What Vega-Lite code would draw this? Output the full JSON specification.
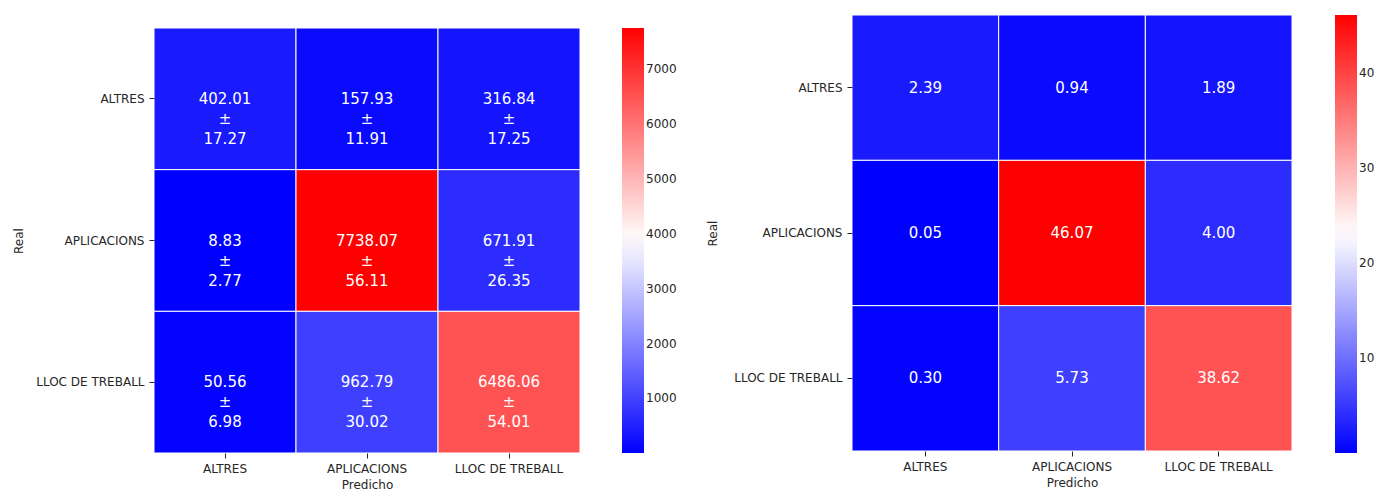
{
  "$schema": "https://vega.github.io/schema/vega-lite/v6.json",
  "padding": {"left": 12, "top": 14, "right": 0, "bottom": 0},
  "background": "white",
  "config": {
    "font": "DejaVu Sans",
    "view": {"stroke": null},
    "axis": {
      "labelFontSize": 12, "titleFontSize": 12,
      "labelColor": "#262626", "titleColor": "#262626", "tickColor": "#262626",
      "tickSize": 5, "labelPadding": 5, "domain": false, "grid": false,
      "titleFontWeight": "normal"
    },
    "legend": {
      "gradientThickness": 22, "offset": 43, "padding": 0, "labelOffset": 9,
      "labelFontSize": 12, "labelColor": "#262626", "gradientStrokeWidth": 0
    }
  },
  "spacing": 29,
  "resolve": {"scale": {"color": "independent"}, "legend": {"color": "independent"}},
  "hconcat": [
    {
      "width": 426,
      "height": 438,
      "data": {"values": [
        {"real": "ALTRES", "pred": "ALTRES", "mean": 402.01, "label": "402.01\n±\n17.27"},
        {"real": "ALTRES", "pred": "APLICACIONS", "mean": 157.93, "label": "157.93\n±\n11.91"},
        {"real": "ALTRES", "pred": "LLOC DE TREBALL", "mean": 316.84, "label": "316.84\n±\n17.25"},
        {"real": "APLICACIONS", "pred": "ALTRES", "mean": 8.83, "label": "8.83\n±\n2.77"},
        {"real": "APLICACIONS", "pred": "APLICACIONS", "mean": 7738.07, "label": "7738.07\n±\n56.11"},
        {"real": "APLICACIONS", "pred": "LLOC DE TREBALL", "mean": 671.91, "label": "671.91\n±\n26.35"},
        {"real": "LLOC DE TREBALL", "pred": "ALTRES", "mean": 50.56, "label": "50.56\n±\n6.98"},
        {"real": "LLOC DE TREBALL", "pred": "APLICACIONS", "mean": 962.79, "label": "962.79\n±\n30.02"},
        {"real": "LLOC DE TREBALL", "pred": "LLOC DE TREBALL", "mean": 6486.06, "label": "6486.06\n±\n54.01"}
      ]},
      "encoding": {
        "x": {"field": "pred", "type": "nominal", "sort": ["ALTRES", "APLICACIONS", "LLOC DE TREBALL"], "title": "Predicho", "axis": {"labelAngle": 0, "titlePadding": 5}},
        "y": {"field": "real", "type": "nominal", "sort": ["ALTRES", "APLICACIONS", "LLOC DE TREBALL"], "title": "Real", "scale": {"range": [13, 438]}, "axis": {"titlePadding": 10}}
      },
      "layer": [
        {
          "mark": {"type": "rect", "stroke": "white", "strokeWidth": 1},
          "encoding": {
            "color": {
              "field": "mean", "type": "quantitative",
              "scale": {"domain": [8.83, 3873.45, 7738.07], "range": ["#0000ff", "#ffffff", "#ff0000"], "interpolate": "rgb"},
              "legend": {"title": null, "orient": "none", "legendX": 468, "legendY": 13, "direction": "vertical", "gradientLength": 425, "format": "d", "values": [1000, 2000, 3000, 4000, 5000, 6000, 7000]}
            }
          }
        },
        {
          "mark": {"type": "text", "lineBreak": "\n", "lineHeight": 20, "fontSize": 15, "color": "white", "baseline": "middle"},
          "encoding": {"text": {"field": "label", "type": "nominal"}}
        }
      ]
    },
    {
      "width": 440,
      "height": 436,
      "data": {"values": [
        {"real": "ALTRES", "pred": "ALTRES", "v": 2.39},
        {"real": "ALTRES", "pred": "APLICACIONS", "v": 0.94},
        {"real": "ALTRES", "pred": "LLOC DE TREBALL", "v": 1.89},
        {"real": "APLICACIONS", "pred": "ALTRES", "v": 0.05},
        {"real": "APLICACIONS", "pred": "APLICACIONS", "v": 46.07},
        {"real": "APLICACIONS", "pred": "LLOC DE TREBALL", "v": 4.00},
        {"real": "LLOC DE TREBALL", "pred": "ALTRES", "v": 0.30},
        {"real": "LLOC DE TREBALL", "pred": "APLICACIONS", "v": 5.73},
        {"real": "LLOC DE TREBALL", "pred": "LLOC DE TREBALL", "v": 38.62}
      ]},
      "encoding": {
        "x": {"field": "pred", "type": "nominal", "sort": ["ALTRES", "APLICACIONS", "LLOC DE TREBALL"], "title": "Predicho", "axis": {"labelAngle": 0, "titlePadding": 5}},
        "y": {"field": "real", "type": "nominal", "sort": ["ALTRES", "APLICACIONS", "LLOC DE TREBALL"], "title": "Real", "axis": {"titlePadding": 14}}
      },
      "layer": [
        {
          "mark": {"type": "rect", "stroke": "white", "strokeWidth": 1},
          "encoding": {
            "color": {
              "field": "v", "type": "quantitative",
              "scale": {"domain": [0.05, 23.06, 46.07], "range": ["#0000ff", "#ffffff", "#ff0000"], "interpolate": "rgb"},
              "legend": {"title": null, "gradientLength": 438, "format": "d", "values": [10, 20, 30, 40]}
            }
          }
        },
        {
          "mark": {"type": "text", "fontSize": 15, "color": "white", "baseline": "middle"},
          "encoding": {"text": {"field": "v", "type": "quantitative", "format": ".2f"}}
        }
      ]
    }
  ]
}
